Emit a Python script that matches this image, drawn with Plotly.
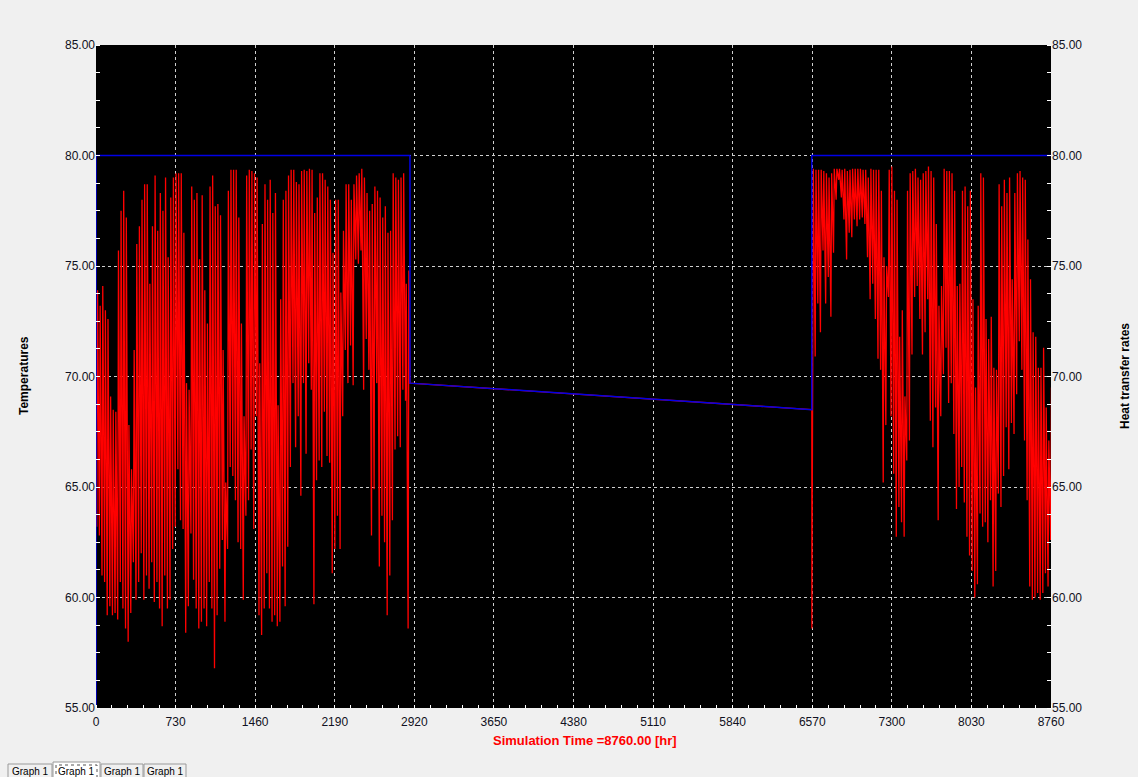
import plotly.graph_objects as go

# ---------------- data ----------------
# Segment 1: daily minimum / maximum temperature, starting at hour 0
seg1_start = 0
seg1_max = [
    73.9, 73.2, 74.1, 73.0, 72.6, 69.1, 68.5, 68.4, 75.7, 77.5,
    78.4, 77.2, 67.8, 65.8, 71.2, 76.0, 76.8, 78.0, 78.7, 78.7,
    74.2, 76.8, 79.1, 76.6, 78.3, 77.5, 79.0, 75.4, 78.1, 79.0,
    79.2, 79.2, 79.2, 76.5, 69.7, 69.4, 78.6, 78.0, 78.3, 75.3,
    78.2, 73.9, 72.4, 78.6, 79.1, 77.7, 77.8, 77.3, 71.2, 65.2,
    78.4, 79.35, 79.35, 79.35, 77.2, 72.4, 68.2, 79.1, 79.35, 79.3,
    79.2, 79.0, 70.6, 76.9, 78.7, 78.0, 78.9, 77.4, 78.3, 68.7,
    73.5, 78.0, 78.4, 79.1, 79.35, 79.35, 78.8, 78.7, 79.3, 79.35,
    79.3, 79.4, 79.35, 77.4, 78.1, 79.2, 79.2, 78.9, 78.6, 78.0,
    75.6, 78.0, 78.0, 73.8, 76.6, 78.7, 78.7, 78.0, 78.7, 79.1,
    79.2, 79.4, 79.0, 78.3, 77.5, 77.8, 78.6, 78.4, 78.1, 77.2,
    77.7, 76.5, 76.6, 79.2, 79.0, 78.9, 79.0, 79.2, 74.2, 74.8,
]
seg1_min = [
    63.2, 62.8, 61.0, 60.7, 59.2, 59.6, 59.2, 59.3, 59.0, 60.7,
    59.5, 58.6, 58.0, 59.3, 61.6, 59.9, 60.7, 62.0, 59.9, 61.0,
    60.4, 61.6, 59.8, 60.7, 59.5, 58.7, 61.0, 59.5, 59.9, 62.2,
    63.2, 65.8, 63.5, 63.1, 58.4, 59.6, 62.9, 60.8, 59.5, 58.6,
    58.9, 59.5, 58.7, 60.7, 59.5, 56.8, 59.2, 61.3, 62.6, 58.9,
    62.2, 65.9, 65.5, 64.4, 62.5, 62.2, 59.9, 63.7, 64.4, 66.7,
    63.1, 68.2, 59.2, 58.3, 59.5, 61.1, 59.5, 58.9, 59.2, 58.7,
    58.9, 61.4, 59.6, 62.3, 65.9, 69.7, 66.8, 68.2, 64.6, 69.7,
    66.5, 70.6, 69.4, 59.7, 65.3, 66.2, 65.9, 68.4, 66.4, 66.1,
    61.1, 62.2, 63.7, 62.2, 68.2, 71.2, 69.7, 71.4, 69.6, 75.3,
    75.1, 75.7, 69.4, 71.7, 70.3, 62.8, 64.9, 69.7, 61.4, 63.7,
    62.5, 59.2, 61.0, 63.5, 66.7, 67.3, 66.8, 69.4, 68.9, 58.6,
]

# Idle period: temperature follows the slow decay
mid_hours = [2880, 6566]
mid_temp = [69.7, 68.5]
restart_dip = 58.6

# Segment 3: daily minimum / maximum, starting at the restart hour
seg3_start = 6566
seg3_max = [
    79.4, 79.35, 79.35, 79.35, 79.3, 79.2, 79.0, 79.2, 79.4, 79.4,
    79.4, 79.35, 79.4, 79.3, 79.35, 79.4, 79.4, 79.4, 79.4, 79.35,
    79.35, 79.0, 79.4, 79.35, 79.35, 79.35, 78.4, 75.4, 75.0, 79.35,
    79.5, 78.4, 78.0, 71.8, 73.0, 69.1, 78.4, 79.2, 79.3, 79.4,
    79.0, 78.9, 79.2, 79.3, 79.5, 79.3, 79.0, 76.9, 73.2, 74.1,
    79.4, 79.3, 79.3, 79.2, 78.4, 74.1, 74.2, 78.4, 78.6, 77.7,
    78.4, 73.5, 69.5, 73.2, 79.2, 79.0, 72.6, 71.7, 72.7, 70.4,
    70.3, 78.7, 77.7, 78.9, 78.3, 79.0, 74.4, 78.3, 79.2, 79.3,
    79.0, 78.9, 76.2, 74.4, 72.0, 71.8, 70.4, 70.4, 71.3, 68.6,
    67.1, 69.5,
]
seg3_min = [
    74.1, 70.9, 73.3, 72.0, 75.7, 73.3, 74.5, 72.7, 75.6, 78.0,
    78.9, 78.1, 77.1, 75.3, 76.5, 76.3, 77.1, 76.8, 77.1, 77.2,
    76.9, 75.4, 73.5, 74.2, 72.6, 70.8, 70.3, 65.2, 67.8, 73.6,
    68.2, 65.6, 62.75, 64.1, 63.4, 62.75, 66.2, 67.1, 71.0, 73.6,
    74.1, 72.6, 71.0, 72.0, 73.5, 68.0, 66.8, 68.6, 63.5, 68.2,
    70.1, 71.3, 68.8, 69.7, 67.4, 64.0, 65.0, 65.9, 64.3, 62.75,
    61.9, 61.2, 60.0, 60.6, 63.8, 63.2, 63.4, 62.5, 64.4, 60.5,
    61.2, 64.7, 64.1, 65.5, 67.7, 65.8, 67.9, 67.4, 69.2, 71.6,
    70.3, 67.1, 64.4, 60.5, 59.9, 60.0, 60.2, 59.9, 60.2, 61.1,
    60.5, 62.6,
]

# Blue signal (right axis)
blue_hours = [0, 0, 2880, 2880, 6566, 6566, 8760]
blue_vals = [55, 80, 80, 69.7, 68.5, 80, 80]

x_ticks = list(range(0, 8761, 730))
y_ticks = [55, 60, 65, 70, 75, 80, 85]
tab_labels = ["Graph 1", "Graph 1", "Graph 1", "Graph 1"]

# ---------------- build red series ----------------
MIN_OFF, MAX_OFF = 7, 14
rx, ry = [], []
for d, (lo, hi) in enumerate(zip(seg1_min, seg1_max)):
    rx += [seg1_start + 24 * d + MIN_OFF, seg1_start + 24 * d + MAX_OFF]
    ry += [lo, hi]
rx += mid_hours
ry += mid_temp
rx.append(mid_hours[-1] + 0.5)
ry.append(restart_dip)
for d, (lo, hi) in enumerate(zip(seg3_min, seg3_max)):
    rx += [seg3_start + 24 * d + MIN_OFF, seg3_start + 24 * d + MAX_OFF]
    ry += [lo, hi]

FONT = "Arial, Liberation Sans, sans-serif"

fig = go.Figure()
fig.add_trace(go.Scatter(x=rx, y=ry, mode="lines",
                         line=dict(color="#ff0000", width=1.3),
                         showlegend=False, hoverinfo="skip"))
fig.add_trace(go.Scatter(x=blue_hours, y=blue_vals, mode="lines", yaxis="y2",
                         line=dict(color="#0000e6", width=1.5),
                         showlegend=False, hoverinfo="skip"))

# Plot-area geometry (pixels)
L, R, T, B = 96, 1051, 45, 708
W, H = R - L, B - T
def px(xp):
    return (xp - L) / W
def py(yp):
    return (B - yp) / H

grid = dict(showgrid=True, gridcolor="#cfcfcf", gridwidth=1, griddash="3px,3px")
tickfont = dict(family=FONT, size=12, color="#111122")

fig.update_layout(
    width=1138, height=777, autosize=False,
    margin=dict(l=L, r=1138 - R, t=T, b=777 - B),
    paper_bgcolor="#f0f0f0", plot_bgcolor="#000000",
    xaxis=dict(range=[0, 8760], tickvals=x_ticks, ticktext=[str(v) for v in x_ticks],
               tickfont=tickfont, ticks="", zeroline=False, showline=False,
               ticklabelstandoff=5,
               minor=dict(dtick=146, tick0=0, ticks="inside", ticklen=3, tickcolor="#ffffff", showgrid=False),
               **grid),
    yaxis=dict(range=[55, 85], tickvals=y_ticks, tickformat=".2f", tickfont=tickfont,
               ticks="", zeroline=False, showline=False,
               minor=dict(dtick=1.25, tick0=55, ticks="inside", ticklen=4, tickcolor="#ffffff", showgrid=False),
               **grid),
    yaxis2=dict(range=[55, 85], tickvals=y_ticks, tickformat=".2f", tickfont=tickfont,
                overlaying="y", side="right", ticks="", showgrid=False, zeroline=False,
                showline=False,
                minor=dict(dtick=1.25, tick0=55, ticks="inside", ticklen=4, tickcolor="#ffffff", showgrid=False)),
)

annotations = [
    dict(text="<b>Simulation Time =8760.00 [hr]</b>", x=px(585), y=py(740),
         xref="paper", yref="paper", showarrow=False,
         font=dict(family=FONT, size=13, color="#ff0000"), xanchor="center", yanchor="middle"),
    dict(text="<b>Temperatures</b>", x=px(24), y=py(376), textangle=-90,
         xref="paper", yref="paper", showarrow=False,
         font=dict(family=FONT, size=12, color="#000000"), xanchor="center", yanchor="middle"),
    dict(text="<b>Heat transfer rates</b>", x=px(1125), y=py(376), textangle=-90,
         xref="paper", yref="paper", showarrow=False,
         font=dict(family=FONT, size=12, color="#000000"), xanchor="center", yanchor="middle"),
]

shapes = []
tab_edges = [(8, 52), (53, 100), (101, 143), (144, 186)]
for i, ((a, b), lab) in enumerate(zip(tab_edges, tab_labels)):
    top = 762 if i == 1 else 764
    shapes.append(dict(type="rect", xref="paper", yref="paper",
                       x0=px(a), x1=px(b), y0=py(780), y1=py(top),
                       line=dict(color="#9a9a9a", width=1),
                       fillcolor="#ffffff" if i == 1 else "#f0f0f0"))
    if i == 1:
        shapes.append(dict(type="rect", xref="paper", yref="paper",
                           x0=px(a + 3), x1=px(b - 3), y0=py(779), y1=py(top + 3),
                           line=dict(color="#555555", width=1, dash="dot")))
    annotations.append(dict(text=lab, x=px((a + b) / 2), y=py(771), xref="paper", yref="paper",
                            showarrow=False, xanchor="center", yanchor="middle",
                            font=dict(family=FONT, size=10, color="#000000")))

fig.update_layout(annotations=annotations, shapes=shapes)

fig.write_html(
    "out.html",
    config={"displayModeBar": False},
    post_script="document.body.style.margin='0';document.body.style.overflow='hidden';"
                "document.body.style.background='#f0f0f0';",
)
